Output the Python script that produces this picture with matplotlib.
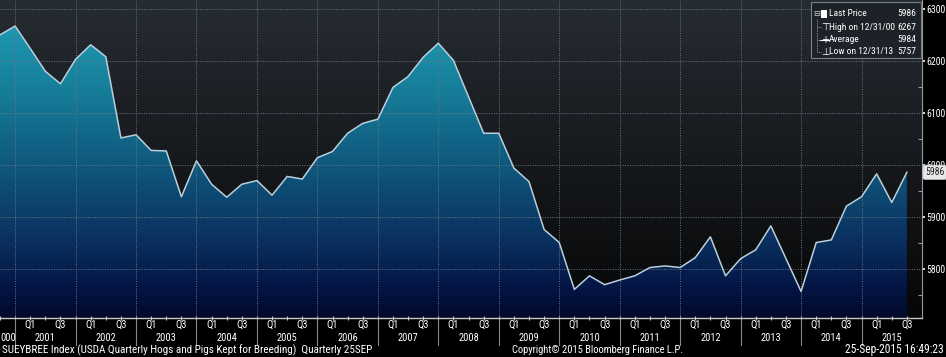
import numpy as np
import pandas as pd
import matplotlib
matplotlib.use('Agg')
import matplotlib.pyplot as plt
from matplotlib.colors import LinearSegmentedColormap
from matplotlib.patches import Polygon, Rectangle
from matplotlib.lines import Line2D
from matplotlib import font_manager as fm

# ---------------- data ----------------
dates = pd.date_range('2000-09-30', periods=61, freq='QE')
values = [6250, 6267, 6224, 6180, 6156, 6203, 6231, 6208, 6052, 6058, 6028, 6027,
          5939, 6008, 5963, 5938, 5963, 5970, 5942, 5978, 5973, 6014, 6026, 6061,
          6080, 6088, 6149, 6170, 6207, 6234, 6201, 6131, 6061, 6061, 5994, 5968,
          5876, 5851, 5761, 5787, 5770, 5779, 5787, 5803, 5806, 5803, 5822, 5862,
          5787, 5820, 5837, 5883, 5820, 5757, 5851, 5856, 5921, 5939, 5983, 5928,
          5986]
years = list(range(2001, 2016))
y_ticks = [5800, 5900, 6000, 6100, 6200, 6300]
quarter_labels = ['Q1', 'Q3']
legend_labels = ['Last Price', 'High on 12/31/00', 'Average', 'Low on 12/31/13']
legend_values = ['5986', '6267', '5984', '5757']
last_value = '5986'
footer_left = 'SUEYBREE Index (USDA Quarterly Hogs and Pigs Kept for Breeding)  Quarterly 25SEP'
footer_mid = 'Copyright\u00a9 2015 Bloomberg Finance L.P.'
footer_right = '25-Sep-2015 16:49:23'

available = {f.name for f in fm.fontManager.ttflist}
cands = ['Roboto Condensed', 'PT Sans Narrow', 'Arial Narrow', 'Liberation Sans Narrow',
         'Archivo Narrow', 'Open Sans Condensed', 'Liberation Sans']
fam = [c for c in cands if c in available][:1] + ['DejaVu Sans']
plt.rcParams['font.family'] = fam

W, H = 946, 357
x = np.array([d.year + d.month / 12.0 for d in dates])

fig = plt.figure(figsize=(W / 100, H / 100), dpi=100, facecolor='black')
ax = fig.add_axes([0, 1 - 318 / H, 922 / W, 318 / H])
ax.set_facecolor('black')
XMIN, XMAX = 2000.75, 2016.0
YMIN, YMAX = 5706, 6317
ax.set_xlim(XMIN, XMAX)
ax.set_ylim(YMIN, YMAX)

# background gradient
bg_cmap = LinearSegmentedColormap.from_list('bg', [(0, '#262c33'), (0.45, '#181b1f'), (1.0, '#060606')])
grad = np.linspace(0, 1, 256).reshape(-1, 1)
ax.imshow(grad, extent=[XMIN, XMAX, YMIN, YMAX], aspect='auto', cmap=bg_cmap,
          origin='upper', zorder=0, interpolation='bilinear')

# area gradient clipped to polygon
fill_cmap = LinearSegmentedColormap.from_list('fill', [
    (0.0, '#21a3bb'), (0.3, '#167b97'), (0.55, '#0e5379'),
    (0.75, '#0a3160'), (0.9, '#041645'), (1.0, '#020a2c')])
verts = [(x[0], YMIN)] + list(zip(x, values)) + [(x[-1], YMIN)]
poly = Polygon(verts, closed=True, facecolor='none', edgecolor='none', transform=ax.transData)
ax.add_patch(poly)
im = ax.imshow(grad, extent=[XMIN, XMAX, YMIN, YMAX], aspect='auto', cmap=fill_cmap,
               origin='upper', zorder=1, interpolation='bilinear')
im.set_clip_path(poly)

# grid
for yr in years:
    ax.axvline(yr, color='#6c7680', lw=0.7, ls=(0, (1, 1.5)), zorder=2)
for yv in y_ticks:
    ax.axhline(yv, color='#6c7680', lw=0.7, ls=(0, (1, 1.5)), zorder=2)

ax.plot(x, values, color='#b9d0dc', lw=1.1, zorder=4)

# spines
for s in ['top', 'left']:
    ax.spines[s].set_visible(False)
ax.spines['bottom'].set_color('#c8c8c8')
ax.spines['right'].set_color('#9a9a9a')
ax.spines['bottom'].set_linewidth(1.0)
ax.spines['right'].set_linewidth(0.8)

# y axis on right
ax.yaxis.tick_right()
ax.set_yticks(y_ticks)
ax.set_yticklabels([str(v) for v in y_ticks])
ax.set_yticks([v + 50 for v in y_ticks[:-1]] + [5750], minor=True)
ax.tick_params(axis='y', which='major', direction='out', length=2.2, width=1.2,
               colors='white', labelsize=7.0, pad=0.6)
ax.tick_params(axis='y', which='minor', direction='in', length=3, width=0.8, color='#9a9a9a')

# x axis ticks at each quarter
ax.set_xticks(x)
ax.set_xticklabels([])
ax.tick_params(axis='x', which='major', direction='inout', length=3, width=0.8, color='#c8c8c8')

tr = ax.get_xaxis_transform()
def ypx(p):
    return (318 - p) / 318.0

for yr in years:
    ax.text(yr + 0.25, ypx(325), quarter_labels[0], transform=tr, ha='center', va='center',
            color='white', fontsize=7.5, clip_on=False)
    ax.text(yr + 0.75, ypx(325), quarter_labels[1], transform=tr, ha='center', va='center',
            color='white', fontsize=7.5, clip_on=False)
    ax.text(yr + 0.5, ypx(338), str(yr), transform=tr, ha='center', va='center',
            color='white', fontsize=7.5, clip_on=False)
    ax.add_line(Line2D([yr, yr], [0, ypx(345)], transform=tr, color='#8a8a8a', lw=0.8, clip_on=False))
ax.text(XMIN, ypx(338), '000', transform=tr, ha='left', va='center',
        color='white', fontsize=7.5, clip_on=False)

# last price box (covers the 6000 label as in the original)
ax.annotate(last_value, xy=(1.0, float(values[-1])), xycoords=('axes fraction', 'data'),
            xytext=(2.2, 0), textcoords='offset points', ha='left', va='center',
            fontsize=7, color='#202020', annotation_clip=False, zorder=10,
            bbox=dict(boxstyle='round,pad=0.22', fc='#e8e8e8', ec='#bbbbbb', lw=0.6))

# footer
fy = 1 - 350 / H
fig.text(2 / W, fy, footer_left, color='white', fontsize=8, va='center', ha='left')
fig.text(512 / W, fy, footer_mid, color='white', fontsize=7.6, va='center', ha='left')
fig.text(944 / W, fy, footer_right, color='white', fontsize=8.3, va='center', ha='right')

# legend box
def fx(p):
    return p / W
def fyy(p):
    return 1 - p / H

fig.patches.append(Rectangle((fx(811), fyy(58)), fx(110), 56 / H, transform=fig.transFigure,
                             facecolor='#1d2228', edgecolor='#7a8088', lw=0.8, zorder=5))
rows_y = [14, 27, 40, 52]
for i, (lab, val) in enumerate(zip(legend_labels, legend_values)):
    fig.text(fx(829), fyy(rows_y[i]), lab, color='white', fontsize=6.8, va='center', ha='left', zorder=6)
    fig.text(fx(916), fyy(rows_y[i]), val, color='white', fontsize=6.8, va='center', ha='right', zorder=6)
# symbols
fig.text(fx(817), fyy(rows_y[0]), '\u229f', color='#cccccc', fontsize=6, va='center', ha='center',
         family='DejaVu Sans', zorder=6)
fig.patches.append(Rectangle((fx(821), fyy(rows_y[0] + 4)), fx(6), 8 / H, transform=fig.transFigure,
                             facecolor='white', edgecolor='none', zorder=6))
fig.text(fx(825), fyy(rows_y[1]), '\u22a4', color='white', fontsize=7, va='center', ha='center',
         family='DejaVu Sans', zorder=6)
fig.text(fx(825), fyy(rows_y[2]), '+', color='white', fontsize=7, va='center', ha='center',
         family='DejaVu Sans', zorder=6)
fig.lines.append(Line2D([fx(820), fx(829)], [fyy(rows_y[2]), fyy(rows_y[2])], transform=fig.transFigure,
                        color='white', lw=0.8, zorder=6))
fig.text(fx(825), fyy(rows_y[3]), '\u22a5', color='white', fontsize=7, va='center', ha='center',
         family='DejaVu Sans', zorder=6)
fig.lines.append(Line2D([fx(817), fx(817)], [fyy(19), fyy(rows_y[3])], transform=fig.transFigure,
                        color='#aaaaaa', lw=0.6, ls=(0, (1, 1)), zorder=6))
for ry in rows_y[1:]:
    fig.lines.append(Line2D([fx(817), fx(821)], [fyy(ry), fyy(ry)], transform=fig.transFigure,
                            color='#aaaaaa', lw=0.6, ls=(0, (1, 1)), zorder=6))

fig.savefig('out.png', dpi=100, facecolor='black')
